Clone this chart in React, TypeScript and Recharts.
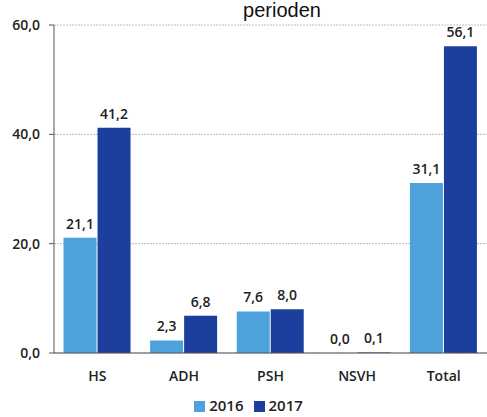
import { BarChart, Bar, XAxis, YAxis, CartesianGrid, Legend, LabelList } from 'recharts';

const categories = ['HS', 'ADH', 'PSH', 'NSVH', 'Total'];
const values2016 = [21.1, 2.3, 7.6, 0.0, 31.1];
const values2017 = [41.2, 6.8, 8.0, 0.1, 56.1];
const yTicks = [0, 20, 40, 60];

const data = categories.map((name, i) => ({
  name,
  y2016: values2016[i],
  y2017: values2017[i],
}));

const fmt = (v: number) => v.toFixed(1).replace('.', ',');
const FONT = '"Open Sans", "Liberation Sans", sans-serif';

const renderLabel = (props: any) => {
  const { x, y, width, value } = props;
  return (
    <text
      x={Number(x) + Number(width) / 2}
      y={Number(y) - 9}
      textAnchor="middle"
      fill="#222"
      fontSize={14}
      fontFamily={FONT}
      fontWeight={600}
    >
      {fmt(Number(value))}
    </text>
  );
};

// zero bars get dropped otherwise, and their label with them
const tinyForZero = (value: any) => (Number(value) === 0 ? 0.01 : 0);

export default function App() {
  return (
    <div style={{ position: 'absolute', left: 0, top: 0, width: 487, height: 417, background: '#fff' }}>
      <div
        style={{
          position: 'absolute',
          left: 182,
          width: 200,
          top: -1,
          textAlign: 'center',
          fontFamily: '"Liberation Sans", Arial, sans-serif',
          fontSize: 20,
          lineHeight: '22px',
          color: '#111',
        }}
      >
        perioden
      </div>
      <BarChart
        width={487}
        height={417}
        data={data}
        margin={{ top: 25, right: 0, left: 0, bottom: 0 }}
        barCategoryGap="11%"
        barGap={1}
      >
        <CartesianGrid vertical={false} stroke="#bdbdbd" strokeDasharray="2 1" />
        <XAxis
          dataKey="name"
          height={42}
          stroke="#555"
          tickLine={false}
          tick={{ fill: '#222', fontSize: 14, fontFamily: FONT, fontWeight: 600 }}
          tickMargin={12}
        />
        <YAxis
          width={54}
          domain={[0, 60]}
          ticks={yTicks}
          stroke="#555"
          tickSize={5}
          tickMargin={9}
          tickFormatter={fmt}
          tick={{ fill: '#222', fontSize: 14, fontFamily: FONT, fontWeight: 600 }}
        />
        <Legend
          verticalAlign="bottom"
          height={22}
          iconType="square"
          iconSize={11}
          wrapperStyle={{ fontFamily: FONT, fontSize: 15, fontWeight: 600, color: '#222', paddingLeft: 10 }}
          formatter={(value) => <span style={{ color: '#222' }}>{value}</span>}
        />
        <Bar dataKey="y2016" name="2016" fill="#4ea2dc" minPointSize={tinyForZero} isAnimationActive={false}>
          <LabelList dataKey="y2016" content={renderLabel} />
        </Bar>
        <Bar dataKey="y2017" name="2017" fill="#1c3f9e" isAnimationActive={false}>
          <LabelList dataKey="y2017" content={renderLabel} />
        </Bar>
      </BarChart>
    </div>
  );
}
